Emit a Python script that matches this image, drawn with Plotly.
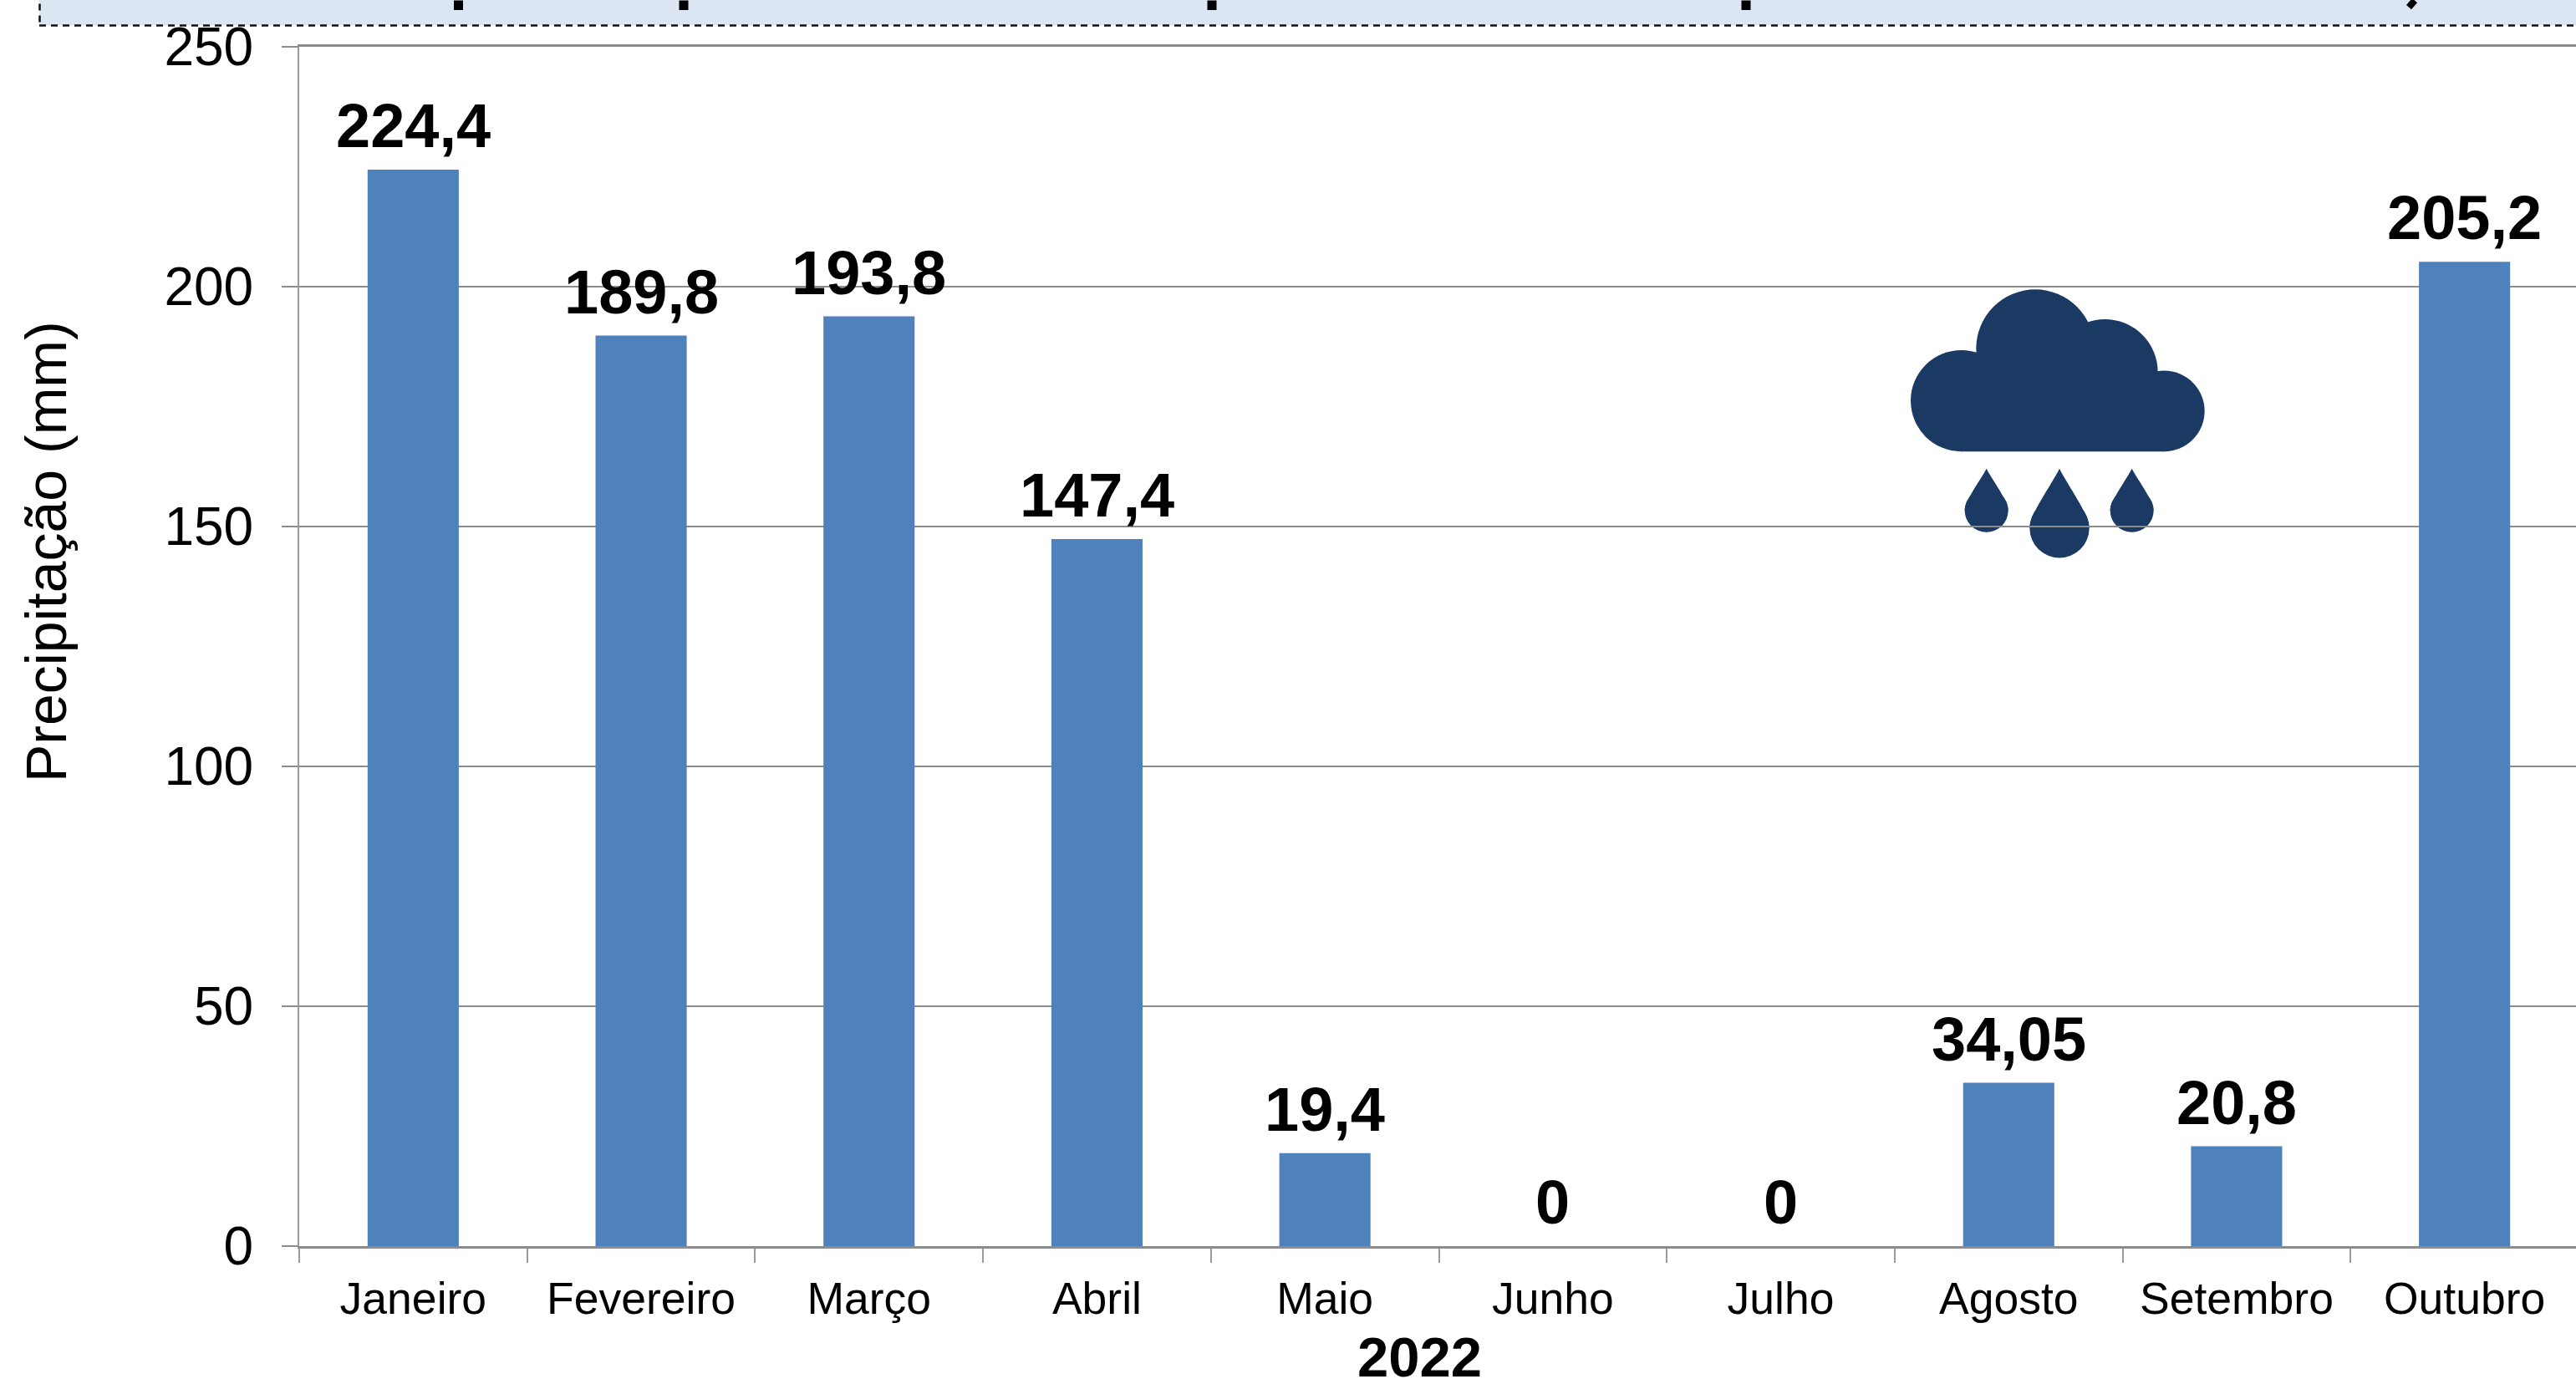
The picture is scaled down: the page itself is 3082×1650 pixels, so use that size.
import plotly.graph_objects as go

months = ["Janeiro", "Fevereiro", "Março", "Abril", "Maio", "Junho", "Julho", "Agosto", "Setembro", "Outubro"]
rain_mm = [224.4, 189.8, 193.8, 147.4, 19.4, 0, 0, 34.05, 20.8, 205.2]
y_ticks = [0, 50, 100, 150, 200, 250]
axis_title = "Precipitação (mm)"
x_title = "2022"

# the plot area runs slightly past the 3082 px window, as in the reference
W, H = 3085, 1650
L, T, B = 358, 55.5, 1491.5


def px(x):
    return (x - L) / (W - L)


def py(y):
    return (B - y) / (B - T)


NAVY = "#1A3A63"
shapes = []


def ix(a):
    return f"{px(2240 + a / 3):.5f}"


def iy(b):
    return f"{py(320 + b / 3):.5f}"


def circle(cx, cy, r):
    # icon coordinates come from a 3x crop at offset (2240, 320)
    cx, cy, r = 2240 + cx / 3, 320 + cy / 3, r / 3
    shapes.append(dict(type="circle", xref="paper", yref="paper", layer="below",
                       x0=px(cx - r), x1=px(cx + r), y0=py(cy + r), y1=py(cy - r),
                       fillcolor=NAVY, line_width=0))


def path(d):
    shapes.append(dict(type="path", xref="paper", yref="paper", layer="below",
                       path=d + " Z", fillcolor=NAVY, line_width=0))


def poly(pts):
    d = " ".join(("M" if i == 0 else "L") + f"{ix(a)},{iy(b)}" for i, (a, b) in enumerate(pts))
    path(d)


# cloud
circle(320, 478, 182)
circle(585, 290, 212)
circle(835, 375, 190)
circle(1048, 515, 145)
poly([(320, 660), (1048, 660), (1048, 400), (320, 400)])
poly([(400, 300), (1000, 300), (1000, 500), (400, 500)])


def drop(cx, tip, cy, r):
    circle(cx, cy, r)
    h = cy - tip
    d = (f"M{ix(cx)},{iy(tip)} "
         f"C{ix(cx + 0.3 * r)},{iy(tip + 0.3 * h)} {ix(cx + r)},{iy(cy - 0.45 * r)} {ix(cx + r)},{iy(cy)} "
         f"L{ix(cx - r)},{iy(cy)} "
         f"C{ix(cx - r)},{iy(cy - 0.45 * r)} {ix(cx - 0.3 * r)},{iy(tip + 0.3 * h)} {ix(cx)},{iy(tip)}")
    path(d)


drop(410, 722, 872, 78)
drop(672, 722, 935, 107)
drop(932, 722, 872, 78)

# header band
shapes.append(dict(type="rect", xref="paper", yref="paper", layer="above",
                   x0=px(47), x1=px(W + 10), y0=py(30), y1=py(-10),
                   fillcolor="#DCE6F2", line_width=0))
shapes.append(dict(type="line", xref="paper", yref="paper", layer="above",
                   x0=px(47), x1=px(W), y0=py(30), y1=py(30),
                   line=dict(color="#111111", width=2.5, dash="8px,6px")))
shapes.append(dict(type="line", xref="paper", yref="paper", layer="above",
                   x0=px(47.5), x1=px(47.5), y0=py(26), y1=py(0),
                   line=dict(color="#111111", width=2.5, dash="8px,6px")))
# clipped descenders of the cut-off heading
for sx in [548.5, 818, 1450, 2089]:
    shapes.append(dict(type="line", xref="paper", yref="paper", layer="above",
                       x0=px(sx), x1=px(sx), y0=py(0), y1=py(11.5),
                       line=dict(color="black", width=11)))
shapes.append(dict(type="line", xref="paper", yref="paper", layer="above",
                   x0=px(2889), x1=px(2882), y0=py(0), y1=py(8),
                   line=dict(color="black", width=8)))

labels = [str(v).replace(".", ",") for v in rain_mm]

fig = go.Figure(go.Bar(
    x=months, y=rain_mm, marker=dict(color="#4F81BD", line_width=0), width=0.4,
    cliponaxis=False,
))

annotations = [
    dict(text=t, x=m, y=v, xref="x", yref="y", xanchor="center", yanchor="bottom", yshift=9, showarrow=False,
         font=dict(family="Liberation Sans", size=74, color="black", weight="bold"))
    for m, v, t in zip(months, rain_mm, labels)
]
annotations += [
    dict(text=x_title, xref="paper", yref="paper", x=px(1698), y=py(1624), xanchor="center", yanchor="middle",
         showarrow=False, font=dict(family="Liberation Sans", size=67, color="black", weight="bold")),
    dict(text=axis_title, xref="paper", yref="paper", x=px(55), y=py(660), xanchor="center", yanchor="middle",
         textangle=-90, showarrow=False, font=dict(family="Liberation Sans", size=68, color="black")),
]

fig.update_layout(
    width=W, height=H, autosize=False, showlegend=False,
    margin=dict(l=L, r=0, t=T, b=H - B, pad=0),
    paper_bgcolor="white", plot_bgcolor="rgba(0,0,0,0)",
    font=dict(family="Liberation Sans", color="black"),
    shapes=shapes,
    annotations=annotations,
)
fig.update_xaxes(type="category", range=[-0.5, 9.5], tickson="boundaries", ticks="outside", ticklen=17,
                 tickwidth=2, tickcolor="#9A9A9A", showgrid=False, showline=True, mirror=True,
                 linecolor="#8C8C8C", linewidth=2.5, ticklabelstandoff=14,
                 tickfont=dict(family="Liberation Sans", size=53.5, color="black"), zeroline=False)
fig.update_yaxes(range=[0, 250], tickmode="array", tickvals=y_ticks, ticks="outside", ticklen=19, tickwidth=2,
                 tickcolor="#8C8C8C", showgrid=True, gridcolor="#8C8C8C", gridwidth=2, showline=True,
                 linecolor="#9A9A9A", linewidth=2, zeroline=False, ticklabelstandoff=21,
                 tickfont=dict(family="Liberation Sans", size=64, color="black"))

fig.write_html("out.html", config=dict(displayModeBar=False),
               post_script="document.body.style.margin='0';document.documentElement.style.overflow='hidden';document.body.style.overflow='hidden';")
